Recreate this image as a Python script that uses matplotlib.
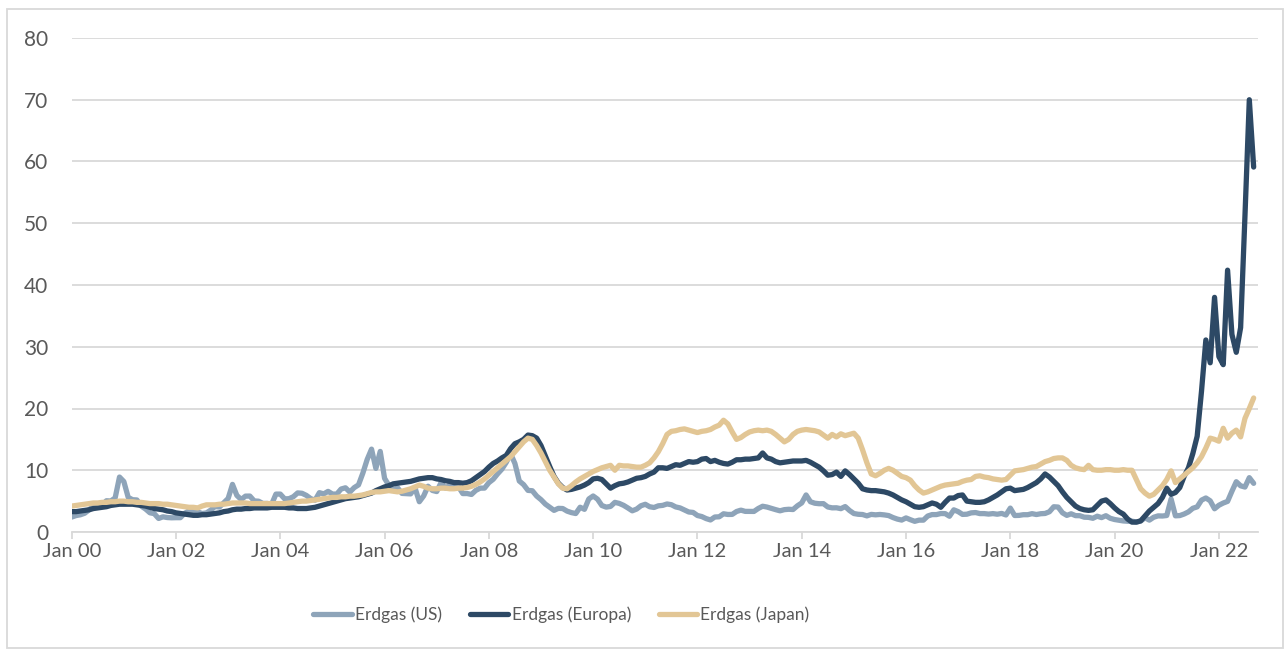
import matplotlib
matplotlib.use("Agg")
import matplotlib.pyplot as plt
from matplotlib.patches import Rectangle

# ---- data (monthly, Jan 2000 - Sep 2022, USD/MMBtu) ----
us = [
    2.42, 2.66, 2.79, 3.04, 3.59, 4.29, 3.99, 4.43, 5.06, 5.02, 5.52, 8.90,
    8.17, 5.61, 5.23, 5.19, 4.19, 3.72, 3.11, 2.97, 2.19, 2.46, 2.34, 2.30,
    2.32, 2.32, 3.03, 3.43, 3.50, 3.26, 2.99, 3.09, 3.55, 4.13, 4.04, 4.74,
    5.43, 7.71, 5.93, 5.26, 5.81, 5.82, 5.03, 4.99, 4.62, 4.63, 4.47, 6.14,
    6.14, 5.37, 5.39, 5.71, 6.33, 6.27, 5.93, 5.41, 5.15, 6.37, 6.17, 6.58,
    6.15, 6.14, 6.96, 7.16, 6.47, 7.18, 7.63, 9.53, 11.75, 13.42, 10.30, 13.05,
    8.69, 7.54, 6.89, 7.16, 6.25, 6.21, 6.17, 7.14, 4.90, 5.85, 7.41, 6.73,
    6.55, 8.00, 7.11, 7.60, 7.64, 7.35, 6.22, 6.23, 6.08, 6.74, 7.10, 7.11,
    7.99, 8.54, 9.41, 10.18, 11.27, 12.69, 11.09, 8.26, 7.67, 6.74, 6.68, 5.82,
    5.24, 4.52, 4.00, 3.50, 3.83, 3.80, 3.38, 3.14, 2.99, 4.01, 3.67, 5.35,
    5.83, 5.32, 4.29, 4.03, 4.14, 4.80, 4.63, 4.32, 3.89, 3.43, 3.71, 4.25,
    4.49, 4.09, 3.97, 4.24, 4.31, 4.54, 4.42, 4.06, 3.90, 3.57, 3.24, 3.17,
    2.67, 2.50, 2.17, 1.95, 2.43, 2.46, 2.95, 2.84, 2.85, 3.32, 3.54, 3.34,
    3.33, 3.33, 3.81, 4.17, 4.04, 3.83, 3.62, 3.43, 3.62, 3.68, 3.64, 4.24,
    4.71, 6.00, 4.90, 4.66, 4.58, 4.59, 4.05, 3.91, 3.92, 3.78, 4.12, 3.48,
    2.99, 2.87, 2.83, 2.61, 2.85, 2.78, 2.84, 2.77, 2.66, 2.34, 2.09, 1.93,
    2.28, 1.99, 1.73, 1.92, 1.92, 2.59, 2.82, 2.82, 2.99, 2.98, 2.55, 3.59,
    3.30, 2.85, 2.88, 3.10, 3.15, 2.98, 2.98, 2.90, 2.98, 2.88, 3.01, 2.76,
    3.87, 2.67, 2.69, 2.80, 2.80, 2.97, 2.83, 2.96, 3.00, 3.28, 4.09, 4.04,
    3.11, 2.69, 2.95, 2.65, 2.64, 2.40, 2.37, 2.22, 2.56, 2.33, 2.64, 2.22,
    2.02, 1.91, 1.79, 1.74, 1.75, 1.63, 1.77, 2.30, 1.92, 2.39, 2.61, 2.59,
    2.67, 5.35, 2.62, 2.66, 2.91, 3.26, 3.84, 4.07, 5.16, 5.51, 5.05, 3.76,
    4.33, 4.69, 4.96, 6.60, 8.14, 7.48, 7.28, 8.80, 7.88,
]

europe = [
    3.3, 3.3, 3.4, 3.5, 3.6, 3.8, 3.9, 4.0, 4.1, 4.3, 4.4, 4.5,
    4.5, 4.5, 4.5, 4.4, 4.3, 4.2, 4.0, 3.8, 3.7, 3.6, 3.4, 3.3,
    3.1, 3.0, 2.9, 2.8, 2.7, 2.7, 2.8, 2.8, 2.9, 3.0, 3.1, 3.3,
    3.4, 3.6, 3.7, 3.7, 3.8, 3.8, 3.9, 3.9, 3.9, 3.9, 4.0, 4.0,
    4.0, 4.0, 3.9, 3.9, 3.8, 3.8, 3.8, 3.9, 4.0, 4.2, 4.4, 4.6,
    4.8, 5.0, 5.2, 5.4, 5.5, 5.6, 5.7, 5.9, 6.1, 6.3, 6.7, 7.0,
    7.3, 7.5, 7.8, 7.9, 8.0, 8.1, 8.2, 8.4, 8.6, 8.7, 8.8, 8.8,
    8.6, 8.5, 8.3, 8.2, 8.0, 8.0, 7.9, 8.0, 8.3, 8.8, 9.3, 9.8,
    10.5, 11.1, 11.5, 12.0, 12.4, 13.5, 14.3, 14.6, 15.0, 15.7, 15.6, 15.2,
    14.0, 12.3, 10.6, 9.0, 7.9, 7.2, 6.8, 6.9, 7.1, 7.3, 7.6, 8.0,
    8.6, 8.7, 8.5, 7.8, 7.1, 7.5, 7.8, 7.9, 8.1, 8.4, 8.7, 8.8,
    9.0, 9.4, 9.7, 10.4, 10.4, 10.3, 10.6, 10.9, 10.8, 11.1, 11.4, 11.3,
    11.4, 11.8, 11.9, 11.4, 11.6, 11.3, 11.1, 11.0, 11.3, 11.7, 11.7, 11.8,
    11.8, 11.9, 12.0, 12.8, 12.0, 11.8, 11.4, 11.2, 11.3, 11.4, 11.5, 11.5,
    11.5, 11.6, 11.3, 10.9, 10.5, 9.9, 9.2, 9.3, 9.7, 9.0, 9.9, 9.3,
    8.6, 7.9, 7.0, 6.8, 6.7, 6.7, 6.6, 6.5, 6.3, 6.0, 5.6, 5.2,
    4.9, 4.5, 4.1, 4.0, 4.1, 4.4, 4.7, 4.5, 4.0, 4.8, 5.5, 5.5,
    5.9, 6.0, 5.0, 4.9, 4.8, 4.8, 4.9, 5.2, 5.6, 6.0, 6.5, 7.0,
    7.1, 6.7, 6.8, 6.9, 7.2, 7.6, 8.0, 8.6, 9.4, 8.9, 8.2, 7.5,
    6.5, 5.6, 4.9, 4.2, 3.8, 3.6, 3.5, 3.6, 4.3, 5.0, 5.2, 4.6,
    3.9, 3.3, 2.9, 2.1, 1.6, 1.6, 1.8, 2.6, 3.4, 4.0, 4.6, 5.6,
    7.1, 6.1, 6.4, 7.2, 9.0, 10.4, 12.7, 15.5, 22.8, 31.1, 27.4, 38.0,
    28.4, 27.1, 42.4, 32.0, 29.1, 33.1, 51.2, 70.0, 59.1,
]

japan = [
    4.2, 4.3, 4.4, 4.5, 4.6, 4.7, 4.7, 4.8, 4.8, 4.9, 4.9, 5.0,
    5.0, 4.9, 4.9, 4.8, 4.8, 4.7, 4.6, 4.6, 4.6, 4.5, 4.5, 4.4,
    4.3, 4.2, 4.1, 4.0, 4.0, 3.9, 4.2, 4.4, 4.4, 4.4, 4.5, 4.5,
    4.6, 4.7, 4.7, 4.7, 4.7, 4.6, 4.6, 4.6, 4.6, 4.6, 4.6, 4.6,
    4.6, 4.6, 4.7, 4.8, 4.9, 5.0, 5.0, 5.1, 5.2, 5.3, 5.4, 5.5,
    5.6, 5.6, 5.7, 5.7, 5.8, 5.8, 5.9, 6.0, 6.2, 6.4, 6.5, 6.5,
    6.6, 6.7, 6.6, 6.5, 6.6, 6.8, 7.0, 7.3, 7.6, 7.4, 7.1, 7.0,
    7.0, 7.1, 7.1, 7.0, 7.0, 7.1, 7.1, 7.2, 7.4, 7.7, 8.1, 8.6,
    9.2, 9.8, 10.4, 11.0, 11.6, 12.2, 13.0, 13.8, 14.6, 15.2, 15.0, 14.0,
    12.8, 11.4, 10.0, 8.9, 7.8, 7.1, 7.0, 7.5, 8.1, 8.6, 9.0, 9.4,
    9.8, 10.1, 10.4, 10.6, 10.8, 10.0, 10.8, 10.7, 10.7, 10.6, 10.5, 10.5,
    10.8, 11.2, 12.0, 13.0, 14.3, 15.8, 16.3, 16.4, 16.6, 16.7, 16.5, 16.3,
    16.1, 16.3, 16.4, 16.6, 17.0, 17.3, 18.1, 17.5, 16.2, 15.0, 15.3, 15.8,
    16.2, 16.4, 16.5, 16.4, 16.5, 16.3, 15.8, 15.2, 14.6, 15.0, 15.8, 16.3,
    16.5, 16.6, 16.5, 16.4, 16.2, 15.7, 15.2, 15.8, 15.4, 15.9, 15.6, 15.8,
    16.0, 15.2, 13.3, 11.2, 9.4, 9.1, 9.5, 10.0, 10.3, 10.0, 9.5, 9.0,
    8.8, 8.4, 7.5, 6.8, 6.3, 6.5, 6.8, 7.1, 7.4, 7.6, 7.7, 7.8,
    7.9, 8.2, 8.4, 8.5, 9.0, 9.1, 8.9, 8.8, 8.6, 8.5, 8.4, 8.5,
    9.2, 9.9, 10.0, 10.1, 10.3, 10.5, 10.6, 11.0, 11.4, 11.6, 11.9, 12.0,
    12.0, 11.6, 10.8, 10.4, 10.2, 10.1, 10.8, 10.1, 10.0, 10.0, 10.1, 10.1,
    10.0, 10.0, 10.1, 10.0, 10.0, 8.5, 7.0, 6.3, 5.8, 6.1, 6.8, 7.5,
    8.5, 9.9, 8.0, 8.6, 9.2, 9.8, 10.4, 11.2, 12.2, 13.6, 15.2, 15.0,
    14.7, 16.8, 15.2, 16.0, 16.5, 15.4, 18.4, 20.0, 21.7,
]

series_labels = ["Erdgas (US)", "Erdgas (Europa)", "Erdgas (Japan)"]
tick_labels = ["Jan 00", "Jan 02", "Jan 04", "Jan 06", "Jan 08", "Jan 10",
               "Jan 12", "Jan 14", "Jan 16", "Jan 18", "Jan 20", "Jan 22"]
y_ticks = [0, 10, 20, 30, 40, 50, 60, 70, 80]

# ---- style ----
plt.rcParams['font.family'] = ['Lato', 'DejaVu Sans']
text_color = "#595959"
grid_color = "#d9d9d9"
colors = ["#8ea4b9", "#2d4965", "#e2c695"]

W, H = 1285, 650
fig = plt.figure(figsize=(W / 100, H / 100), dpi=100)
ax = fig.add_axes([71.7 / W, 1 - 532 / H, (1258 - 71.7) / W, (532 - 38) / H])

months = list(range(len(us)))
for vals, lab, col in zip([us, europe, japan], series_labels, colors):
    ax.plot(months, vals, color=col, lw=3.8, label=lab,
            solid_capstyle='round', solid_joinstyle='round')

ax.set_ylim(0, 80)
ax.set_xlim(0, len(us))
ax.set_yticks(y_ticks)
ax.set_xticks([24 * i for i in range(len(tick_labels))])
ax.set_xticklabels(tick_labels)
ax.yaxis.grid(True, color=grid_color, lw=1.3)
ax.set_axisbelow(True)
for s in ["top", "right", "left"]:
    ax.spines[s].set_visible(False)
ax.spines["bottom"].set_color(grid_color)
ax.spines["bottom"].set_linewidth(1.3)
ax.tick_params(axis='y', length=0, pad=17, labelsize=15, labelcolor=text_color)
ax.tick_params(axis='x', length=5, width=1.3, color=grid_color, pad=3,
               labelsize=14.5, labelcolor=text_color)

leg = fig.legend(loc='center', bbox_to_anchor=(561.5 / W, 1 - 615 / H), ncol=3,
                 frameon=False, handlelength=2.2, handletextpad=0.2,
                 columnspacing=1.6, fontsize=12.5)
for t in leg.get_texts():
    t.set_color(text_color)

# figure border
fig.patches.append(Rectangle((7 / W, 2 / H), (1283 - 7) / W, (641 - 2) / H,
                             transform=fig.transFigure, fill=False,
                             edgecolor=grid_color, lw=1.3))

fig.savefig("out.png", dpi=100)
